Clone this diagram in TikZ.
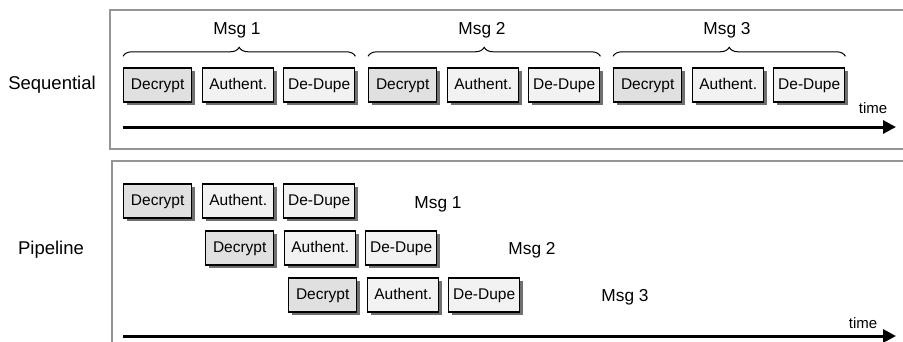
\documentclass[tikz,border=0pt]{standalone}
\usepackage{fontspec}
\setmainfont{Liberation Sans}
\usetikzlibrary{shadows,decorations.pathreplacing,arrows.meta}
\definecolor{decfill}{HTML}{E0E0E0}
\definecolor{litefill}{HTML}{F2F2F2}
\definecolor{panelgray}{HTML}{959595}
\definecolor{shadowgray}{HTML}{707070}
\tikzset{
  stagebox/.style={draw=black, line width=1.4pt, anchor=west, minimum height=34pt,
    inner sep=0pt, text height=11.5pt, text depth=3.3pt, font=\fontsize{15.5}{18}\selectfont,
    drop shadow={shadow xshift=3pt, shadow yshift=-3pt, fill=shadowgray, opacity=1}},
  dec/.style={stagebox, fill=decfill, minimum width=68pt},
  aut/.style={stagebox, fill=litefill, minimum width=71pt},
  ded/.style={stagebox, fill=litefill, minimum width=71pt},
  panel/.style={draw=panelgray, line width=1.8pt},
  msglabel/.style={font=\fontsize{17.3}{20}\selectfont},
  sidelabel/.style={font=\fontsize{18.5}{21}\selectfont},
  timelabel/.style={font=\fontsize{15}{18}\selectfont},
  timeaxis/.style={line width=3pt, -{Triangle[length=13pt,width=13pt]}},
  msgbrace/.style={decorate, decoration={brace, amplitude=9pt}, line width=1pt}
}
\begin{document}
\begin{tikzpicture}[x=1pt,y=-1pt]
\useasboundingbox (0,0) rectangle (903,341);
% panels
\draw[panel] (110,10) rectangle (920,149);
\draw[panel] (112,161) rectangle (920,360);
% side labels
\node[sidelabel] (seq) at (52,85) {Sequential};
\node[sidelabel] (pipe) at (51,250) {Pipeline};
% sequential boxes
\foreach \i/\x in {1/123,2/368,3/613}{
  \node[dec] (sd\i) at (\x,85) {Decrypt};
  \node[aut] (sa\i) at (\x+79,85) {Authent.};
  \node[ded] (sdd\i) at (\x+160,85) {De-Dupe};
  \draw[msgbrace] ([yshift=11pt]sd\i.north west) -- ([yshift=11pt]sdd\i.north east);
}
\node[msglabel] (m1) at (237,30) {Msg 1};
\node[msglabel] (m2) at (482,30) {Msg 2};
\node[msglabel] (m3) at (727,30) {Msg 3};
\coordinate (ta) at (123,127);
\coordinate (tb) at (896,127);
\draw[timeaxis] (ta) -- (tb);
\node[timelabel] (time1) at (873,108) {time};
% pipeline boxes
\foreach \i/\x/\y in {1/123/201,2/205/248,3/288/295}{
  \node[dec] (pd\i) at (\x,\y) {Decrypt};
  \node[aut] (pa\i) at (\x+79,\y) {Authent.};
  \node[ded] (pdd\i) at (\x+160,\y) {De-Dupe};
}
\node[msglabel] (pm1) at (438,204) {Msg 1};
\node[msglabel] (pm2) at (532,250) {Msg 2};
\node[msglabel] (pm3) at (625,297) {Msg 3};
\coordinate (tc) at (123,336);
\coordinate (td) at (896,336);
\draw[timeaxis] (tc) -- (td);
\node[timelabel] (time2) at (863,323) {time};
\end{tikzpicture}
\end{document}
